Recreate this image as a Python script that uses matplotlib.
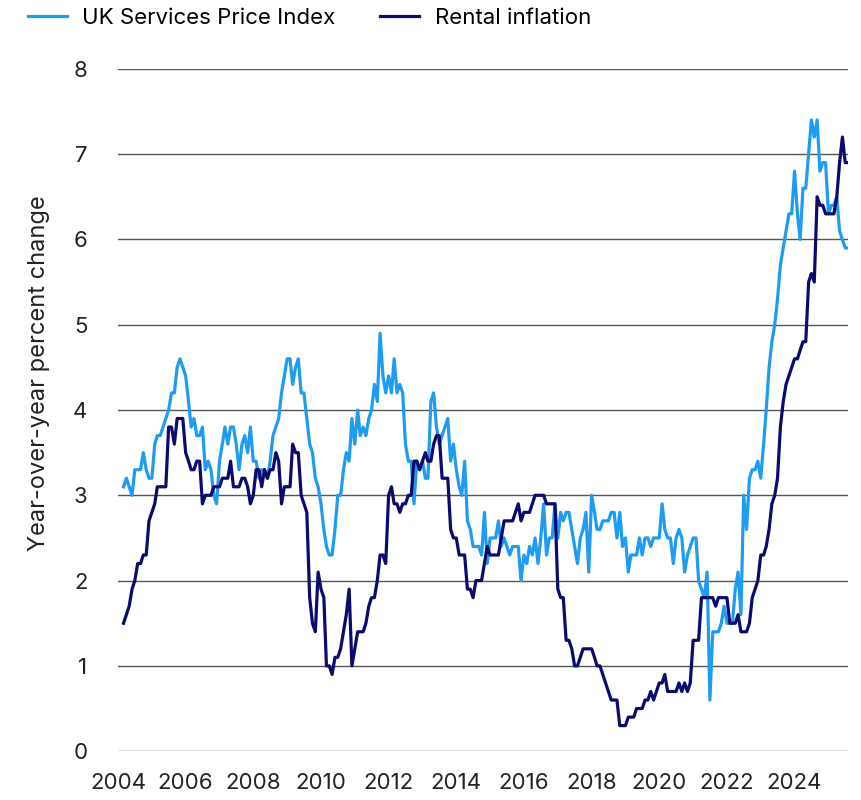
import matplotlib
matplotlib.use("Agg")
import matplotlib.pyplot as plt
import matplotlib.dates as mdates
import pandas as pd

# monthly readings, Mar 2004 onwards (year-over-year % change)
services = [
    3.1, 3.2, 3.1, 3.0, 3.3, 3.3, 3.3, 3.5, 3.3, 3.2, 3.2, 3.6,
    3.7, 3.7, 3.8, 3.9, 4.0, 4.2, 4.2, 4.5, 4.6, 4.5, 4.4, 4.1,
    3.8, 3.9, 3.7, 3.7, 3.8, 3.3, 3.4, 3.3, 3.0, 2.9, 3.4, 3.6,
    3.8, 3.6, 3.8, 3.8, 3.6, 3.3, 3.6, 3.7, 3.5, 3.8, 3.4, 3.4,
    3.2, 3.3, 3.3, 3.2, 3.4, 3.7, 3.8, 3.9, 4.2, 4.4, 4.6, 4.6,
    4.3, 4.5, 4.6, 4.2, 4.2, 3.9, 3.6, 3.5, 3.2, 3.1, 2.9, 2.6,
    2.4, 2.3, 2.3, 2.6, 3.0, 3.0, 3.3, 3.5, 3.4, 3.9, 3.6, 4.0,
    3.7, 3.8, 3.7, 3.9, 4.0, 4.3, 4.1, 4.9, 4.4, 4.2, 4.4, 4.2,
    4.6, 4.2, 4.3, 4.2, 3.6, 3.4, 3.4, 2.9, 3.4, 3.3, 3.4, 3.2,
    3.2, 4.1, 4.2, 3.8, 3.6, 3.7, 3.8, 3.9, 3.4, 3.6, 3.3, 3.1,
    3.0, 3.4, 2.7, 2.6, 2.4, 2.4, 2.4, 2.3, 2.8, 2.2, 2.5, 2.5,
    2.5, 2.7, 2.4, 2.5, 2.4, 2.3, 2.4, 2.4, 2.4, 2.0, 2.3, 2.2,
    2.4, 2.3, 2.5, 2.2, 2.5, 2.9, 2.3, 2.5, 2.5, 2.9, 2.5, 2.8,
    2.7, 2.8, 2.8, 2.6, 2.4, 2.2, 2.5, 2.6, 2.8, 2.1, 3.0, 2.8,
    2.6, 2.6, 2.7, 2.7, 2.7, 2.8, 2.8, 2.5, 2.8, 2.4, 2.5, 2.1,
    2.3, 2.3, 2.3, 2.5, 2.3, 2.5, 2.5, 2.4, 2.5, 2.5, 2.5, 2.9,
    2.6, 2.5, 2.5, 2.2, 2.5, 2.6, 2.5, 2.1, 2.3, 2.4, 2.5, 2.5,
    2.0, 1.9, 1.8, 2.1, 0.6, 1.4, 1.4, 1.4, 1.5, 1.7, 1.5, 1.5,
    1.5, 1.9, 2.1, 1.6, 3.0, 2.6, 3.2, 3.3, 3.3, 3.4, 3.2, 3.6,
    4.0, 4.5, 4.8, 5.0, 5.3, 5.7, 5.9, 6.1, 6.3, 6.3, 6.8, 6.3,
    6.0, 6.6, 6.6, 7.0, 7.4, 7.2, 7.4, 6.8, 6.9, 6.9, 6.3, 6.4,
    6.4, 6.5, 6.1, 6.0, 5.9, 5.9,
]

rental = [
    1.5, 1.6, 1.7, 1.9, 2.0, 2.2, 2.2, 2.3, 2.3, 2.7, 2.8, 2.9,
    3.1, 3.1, 3.1, 3.1, 3.8, 3.8, 3.6, 3.9, 3.9, 3.9, 3.5, 3.4,
    3.3, 3.3, 3.4, 3.4, 2.9, 3.0, 3.0, 3.0, 3.1, 3.1, 3.1, 3.2,
    3.2, 3.2, 3.4, 3.1, 3.1, 3.1, 3.2, 3.2, 3.1, 2.9, 3.0, 3.3,
    3.3, 3.1, 3.3, 3.2, 3.3, 3.3, 3.5, 3.4, 2.9, 3.1, 3.1, 3.1,
    3.6, 3.5, 3.5, 3.0, 2.9, 2.8, 1.8, 1.5, 1.4, 2.1, 1.9, 1.8,
    1.0, 1.0, 0.9, 1.1, 1.1, 1.2, 1.4, 1.6, 1.9, 1.0, 1.2, 1.4,
    1.4, 1.4, 1.5, 1.7, 1.8, 1.8, 2.0, 2.3, 2.3, 2.2, 3.0, 3.1,
    2.9, 2.9, 2.8, 2.9, 2.9, 3.0, 3.0, 3.4, 3.4, 3.3, 3.4, 3.5,
    3.4, 3.4, 3.6, 3.7, 3.7, 3.2, 3.2, 3.2, 2.6, 2.5, 2.5, 2.3,
    2.3, 2.3, 1.9, 1.9, 1.8, 2.0, 2.0, 2.0, 2.2, 2.4, 2.3, 2.3,
    2.3, 2.3, 2.5, 2.7, 2.7, 2.7, 2.7, 2.8, 2.9, 2.7, 2.8, 2.8,
    2.8, 2.9, 3.0, 3.0, 3.0, 3.0, 2.9, 2.9, 2.9, 2.9, 1.9, 1.8,
    1.8, 1.3, 1.3, 1.2, 1.0, 1.0, 1.1, 1.2, 1.2, 1.2, 1.2, 1.1,
    1.0, 1.0, 0.9, 0.8, 0.7, 0.6, 0.6, 0.6, 0.3, 0.3, 0.3, 0.4,
    0.4, 0.4, 0.5, 0.5, 0.5, 0.6, 0.6, 0.7, 0.6, 0.7, 0.8, 0.8,
    0.9, 0.7, 0.7, 0.7, 0.7, 0.8, 0.7, 0.8, 0.7, 0.8, 1.3, 1.3,
    1.3, 1.8, 1.8, 1.8, 1.8, 1.8, 1.7, 1.8, 1.8, 1.8, 1.8, 1.5,
    1.5, 1.5, 1.6, 1.4, 1.4, 1.4, 1.5, 1.8, 1.9, 2.0, 2.3, 2.3,
    2.4, 2.6, 2.9, 3.0, 3.2, 3.8, 4.1, 4.3, 4.4, 4.5, 4.6, 4.6,
    4.7, 4.8, 4.8, 5.5, 5.6, 5.5, 6.5, 6.4, 6.4, 6.3, 6.3, 6.3,
    6.3, 6.5, 6.9, 7.2, 6.9, 6.9,
]

tick_years = list(range(2004, 2025, 2))

dates = pd.date_range("2004-03-01", periods=len(services), freq="MS")

plt.rcParams['font.family'] = ['Inter', 'DejaVu Sans']

fig = plt.figure(figsize=(8.61, 8.0), dpi=100)
ax = fig.add_axes([0.137, 0.061, 0.848, 0.853])

ax.plot(dates, services, color="#1d9cf2", lw=2.3, label="UK Services Price Index")
ax.plot(dates, rental, color="#0b0a6e", lw=2.3, label="Rental inflation")

ax.set_ylim(0, 8)
ax.set_xlim(dates[0], dates[-1])
ax.set_yticks(range(0, 9))
ax.set_xticks([pd.Timestamp(f"{y}-01-01") for y in tick_years])
ax.xaxis.set_major_formatter(mdates.DateFormatter("%Y"))
ax.tick_params(axis="both", length=0, labelsize=16, colors="#222222")
ax.tick_params(axis="y", pad=22)
ax.tick_params(axis="x", pad=16)
ax.yaxis.grid(True, color="#555555", lw=1)
ax.set_axisbelow(True)
for s in ax.spines.values():
    s.set_visible(False)

ax.set_ylabel("Year-over-year percent change", fontsize=17, color="#222222")
ax.yaxis.set_label_coords(-0.093, 0.554)

fig.legend(loc="upper left", bbox_to_anchor=(28 / 861, 1 - 8 / 800), ncol=2, frameon=False,
           fontsize=16, handlelength=1.75, handletextpad=0.7, columnspacing=2.0,
           borderpad=0, borderaxespad=0)

plt.savefig("out.png", dpi=100)
